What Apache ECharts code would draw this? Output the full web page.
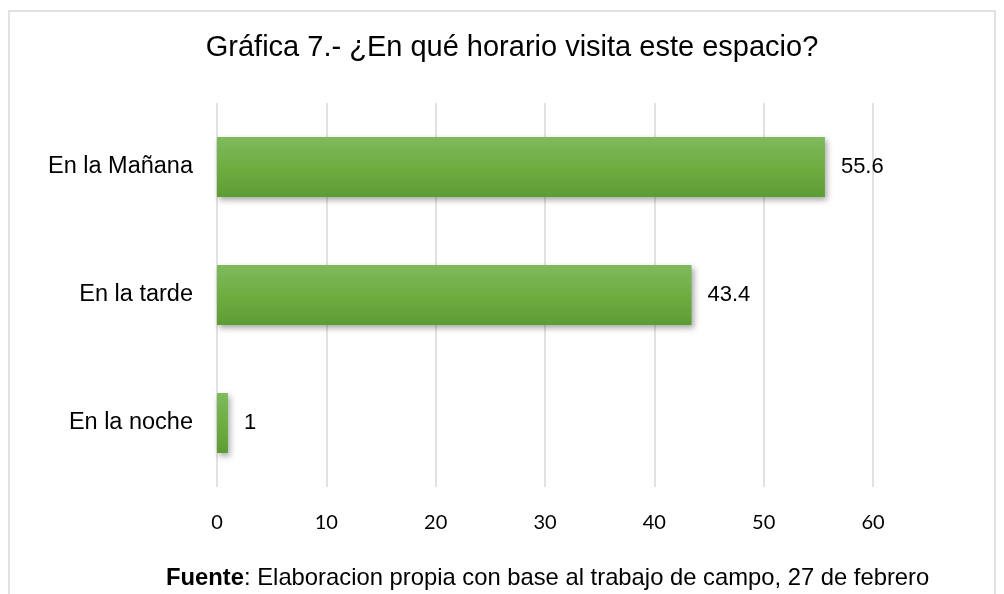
<!DOCTYPE html>
<html>
<head>
<meta charset="utf-8">
<script src="https://cdn.jsdelivr.net/npm/echarts@6/dist/echarts.min.js"></script>
<style>
  html, body { margin: 0; padding: 0; background: #fff; }
  #chart { width: 1004px; height: 594px; }
</style>
</head>
<body>
<div id="chart"></div>
<script>
// datos de la grafica
var categorias = ['En la Mañana', 'En la tarde', 'En la noche'];
var valores = [55.6, 43.4, 1];
var ejeTicks = [0, 10, 20, 30, 40, 50, 60];

var titulo = 'Gráfica 7.- ¿En qué horario visita este espacio?';
var fuente = 'Elaboracion propia con base al trabajo de campo, 27 de febrero';

var chart = echarts.init(document.getElementById('chart'));

chart.setOption({
    backgroundColor: '#fff',
    animation: false,
    grid: {left: 217, right: 131, top: 103, bottom: 107, containLabel: false},
    graphic: [
        {
            type: 'rect',
            shape: {x: 9, y: 11, width: 986, height: 600},
            style: {fill: 'none', stroke: '#d9d9d9', lineWidth: 1.5},
            silent: true
        },
        {
            type: 'text',
            x: 512, y: 48,
            style: {
                text: titulo,
                fill: '#000',
                font: '29px "Liberation Sans", Arial, sans-serif',
                textAlign: 'center',
                textVerticalAlign: 'middle'
            }
        },
        {
            type: 'text',
            x: 166, y: 578,
            style: {
                text: '{b|Fuente}: ' + fuente,
                fill: '#000',
                font: '23.8px "Liberation Sans", Arial, sans-serif',
                textAlign: 'left',
                textVerticalAlign: 'middle',
                rich: {
                    b: {fontWeight: 'bold', fontSize: 23.8, fontFamily: '"Liberation Sans", Arial, sans-serif', fill: '#000'}
                }
            }
        }
    ],
    xAxis: {
        type: 'value',
        min: ejeTicks[0],
        max: ejeTicks[ejeTicks.length - 1],
        interval: 10,
        axisLine: {show: false},
        axisTick: {show: false},
        axisLabel: {
            margin: 26,
            color: '#000',
            fontFamily: 'Lato, "Open Sans", sans-serif',
            fontSize: 20
        },
        splitLine: {show: true, lineStyle: {color: '#d9d9d9', width: 1.5}}
    },
    yAxis: {
        type: 'category',
        data: categorias,
        inverse: true,
        axisLine: {show: false},
        axisTick: {show: false},
        axisLabel: {
            margin: 24,
            color: '#000',
            fontFamily: '"Liberation Sans", Arial, sans-serif',
            fontSize: 23.5
        }
    },
    series: [{
        type: 'bar',
        data: valores,
        barWidth: 60,
        itemStyle: {
            color: new echarts.graphic.LinearGradient(0, 0, 0, 1, [
                {offset: 0, color: '#7fba5d'},
                {offset: 0.5, color: '#6eae41'},
                {offset: 1, color: '#5d9c32'}
            ]),
            shadowColor: 'rgba(0,0,0,0.35)',
            shadowBlur: 6,
            shadowOffsetX: 2,
            shadowOffsetY: 3
        },
        label: {
            show: true,
            position: 'right',
            distance: 16,
            color: '#000',
            fontFamily: '"Liberation Sans", Arial, sans-serif',
            fontSize: 22
        }
    }]
});
</script>
</body>
</html>
